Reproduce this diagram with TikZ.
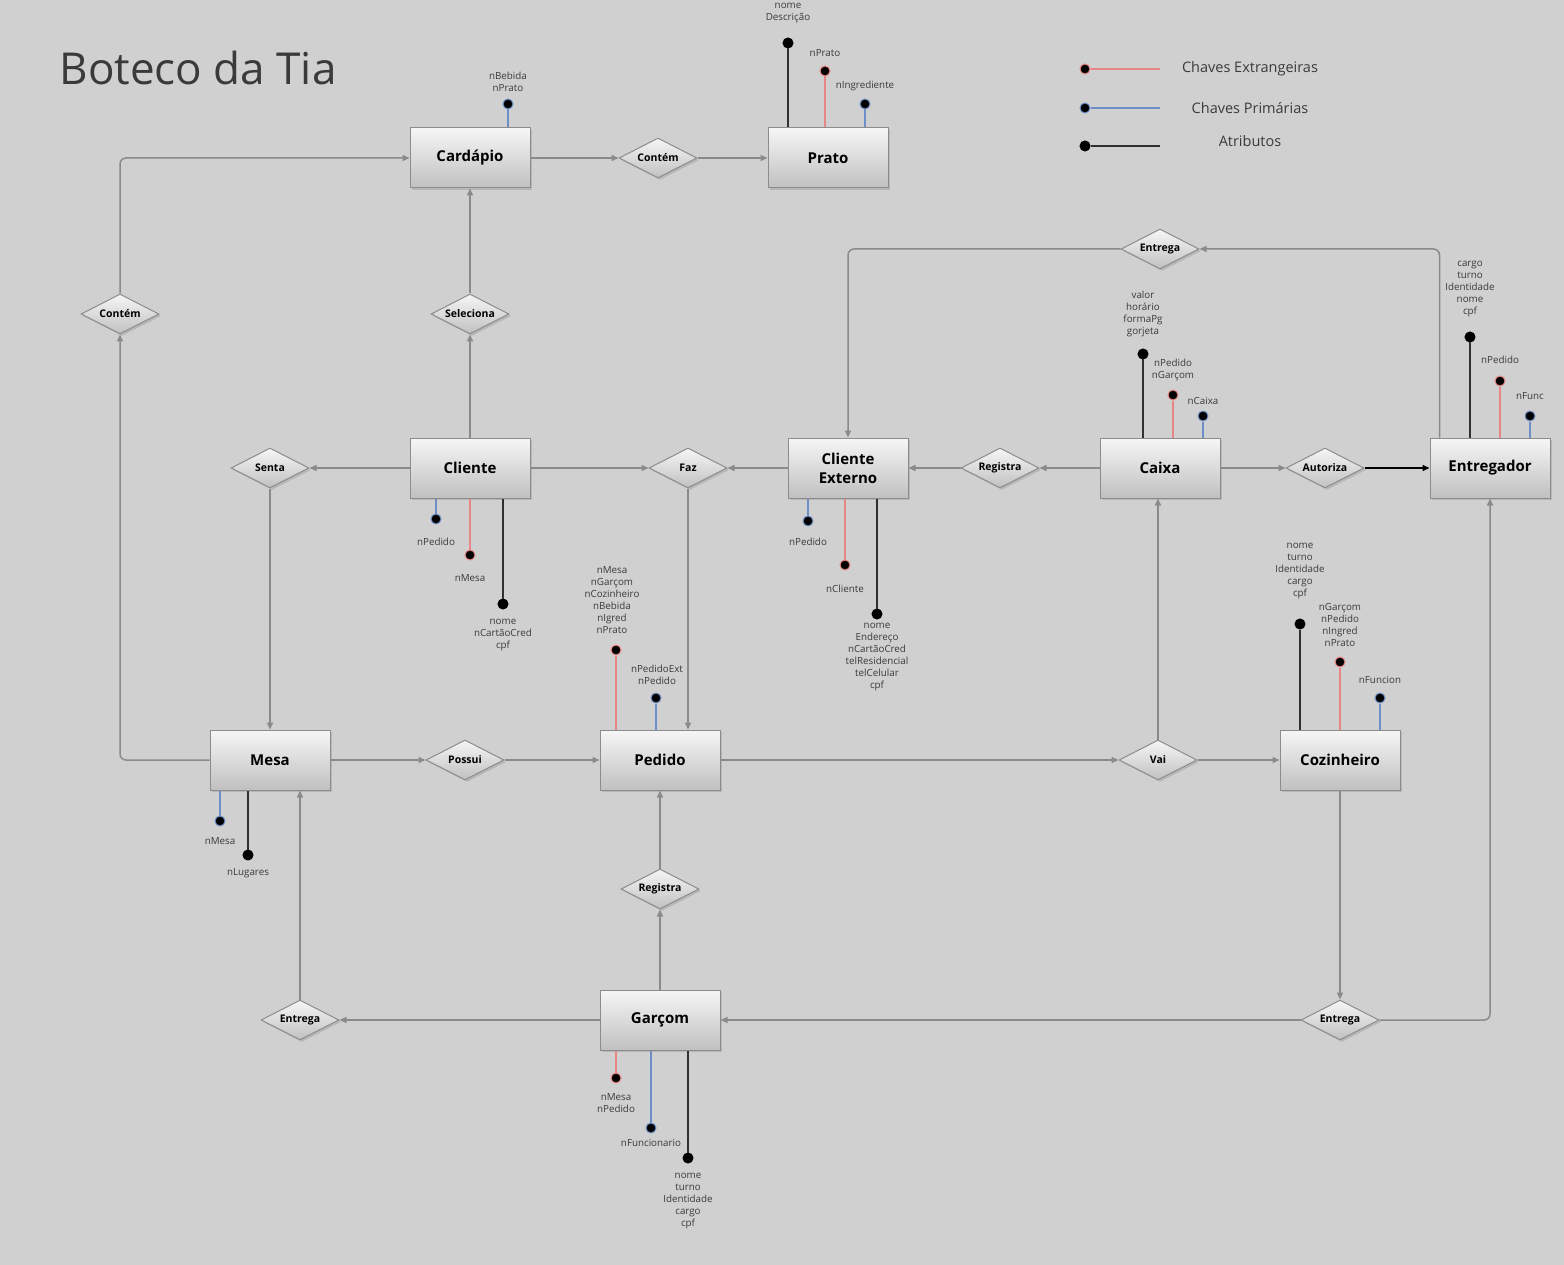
\documentclass[tikz,border=0pt]{standalone}
\usepackage{fontspec}
\setmainfont{Open Sans}
\usetikzlibrary{shapes.geometric,arrows.meta,shadows}

\definecolor{fundo}{HTML}{D0D0D0}
\definecolor{linha}{HTML}{8A8A8A}
\definecolor{borda}{HTML}{8C8C8C}
\definecolor{topo}{HTML}{F6F6F6}
\definecolor{base}{HTML}{C0C0C0}
\definecolor{fkcor}{HTML}{E88585}
\definecolor{pkcor}{HTML}{6E8EC6}
\definecolor{atcor}{HTML}{303030}
\definecolor{texto}{HTML}{3A3A3A}

\begin{document}
\begin{tikzpicture}[x=1pt, y=-1pt,
    entidade/.style={rectangle, draw=borda, line width=1pt, top color=topo, bottom color=base,
      minimum width=120pt, minimum height=60pt, align=center,
      font=\fontsize{15}{19}\selectfont\bfseries,
      drop shadow={opacity=0.3, shadow xshift=2pt, shadow yshift=-2pt}},
    relacao/.style={diamond, aspect=2, draw=borda, line width=1pt, top color=topo, bottom color=base,
      minimum width=78pt, minimum height=40pt, inner sep=1pt,
      font=\fontsize{10.5}{12}\selectfont\bfseries,
      drop shadow={opacity=0.3, shadow xshift=2pt, shadow yshift=-2pt}},
    liga/.style={draw=linha, line width=1.5pt, -{Triangle[length=7pt,width=6pt]}},
    chavep/.style={circle, fill=black, draw=pkcor, line width=1pt, inner sep=0pt, minimum size=10pt},
    chavee/.style={circle, fill=black, draw=fkcor, line width=1pt, inner sep=0pt, minimum size=10pt},
    atrib/.style={circle, fill=black, draw=black, line width=1pt, inner sep=0pt, minimum size=10pt},
    linhap/.style={draw=pkcor, line width=1.3pt},
    linhae/.style={draw=fkcor, line width=1.3pt},
    linhaa/.style={draw=atcor, line width=1.3pt},
    rotulo/.style={font=\fontsize{9.8}{12}\selectfont, align=center, text=texto, inner sep=0pt},
    legenda/.style={font=\fontsize{14.5}{16}\selectfont, text=texto}]

  \useasboundingbox (0,0) rectangle (1564,1265);
  \fill[fundo] (0,0) rectangle (1564,1265);

  \node[anchor=base west, font=\fontsize{44}{50}\selectfont, text=texto] (titulo) at (56,85) {Boteco da Tia};

  % legenda
  \node[chavee] (legfk) at (1085,69) {};
  \node[chavep] (legpk) at (1085,108) {};
  \node[atrib] (legat) at (1085,146) {};
  \coordinate (legfkfim) at (1160,69);
  \coordinate (legpkfim) at (1160,108);
  \coordinate (legatfim) at (1160,146);
  \draw[linhae] (legfk) -- (legfkfim);
  \draw[linhap] (legpk) -- (legpkfim);
  \draw[linhaa] (legat) -- (legatfim);
  \node[legenda] (legfkt) at (1250,69) {Chaves Extrangeiras};
  \node[legenda] (legpkt) at (1250,108) {Chaves Primárias};
  \node[legenda] (legatt) at (1250,141) {Atributos};

  % entidades
  \node[entidade] (cardapio) at (470,158) {Cardápio};
  \node[entidade] (prato) at (828,158) {Prato};
  \node[entidade] (cliente) at (470,468) {Cliente};
  \node[entidade] (clienteext) at (848,468) {Cliente\\Externo};
  \node[entidade] (caixa) at (1160,468) {Caixa};
  \node[entidade] (entregador) at (1490,468) {Entregador};
  \node[entidade] (mesa) at (270,760) {Mesa};
  \node[entidade] (pedido) at (660,760) {Pedido};
  \node[entidade] (cozinheiro) at (1340,760) {Cozinheiro};
  \node[entidade] (garcom) at (660,1020) {Garçom};

  % relacionamentos
  \node[relacao] (contem) at (658,158) {Contém};
  \node[relacao] (contemmesa) at (120,314) {Contém};
  \node[relacao] (seleciona) at (470,314) {Seleciona};
  \node[relacao] (entregaext) at (1160,249) {Entrega};
  \node[relacao] (senta) at (270,468) {Senta};
  \node[relacao] (faz) at (688,468) {Faz};
  \node[relacao] (registracx) at (1000,468) {Registra};
  \node[relacao] (autoriza) at (1325,468) {Autoriza};
  \node[relacao] (possui) at (465,760) {Possui};
  \node[relacao] (vai) at (1158,760) {Vai};
  \node[relacao] (registrapd) at (660,889) {Registra};
  \node[relacao] (entregamesa) at (300,1020) {Entrega};
  \node[relacao] (entregacoz) at (1340,1020) {Entrega};

  \draw[liga] (cardapio) -- (contem);
  \draw[liga] (contem) -- (prato);
  \draw[liga] (cliente) -- (seleciona);
  \draw[liga] (seleciona) -- (cardapio);
  \draw[liga, rounded corners=6pt] (mesa.west) -| (contemmesa.south);
  \draw[liga, rounded corners=6pt] (contemmesa.north) |- (cardapio.west);
  \draw[liga] (cliente) -- (senta);
  \draw[liga] (senta) -- (mesa);
  \draw[liga] (cliente) -- (faz);
  \draw[liga] (clienteext) -- (faz);
  \draw[liga] (faz.south) -- (faz.south |- pedido.north);
  \draw[liga] (caixa) -- (registracx);
  \draw[liga] (registracx) -- (clienteext);
  \draw[liga] (caixa) -- (autoriza);
  \draw[liga, draw=black] (autoriza) -- (entregador);
  \draw[liga, rounded corners=6pt] ([xshift=10pt]entregador.north west) |- (entregaext.east);
  \draw[liga, rounded corners=6pt] (entregaext.west) -| (clienteext.north);
  \draw[liga] (mesa) -- (possui);
  \draw[liga] (possui) -- (pedido);
  \draw[liga] (pedido) -- (vai);
  \draw[liga] (vai) -- (cozinheiro);
  \draw[liga] (vai.north) -- (vai.north |- caixa.south);
  \draw[liga] (garcom) -- (registrapd);
  \draw[liga] (registrapd) -- (pedido);
  \draw[liga] (garcom) -- (entregamesa);
  \draw[liga] (entregamesa.north) -- (entregamesa.north |- mesa.south);
  \draw[liga] (cozinheiro) -- (entregacoz);
  \draw[liga] (entregacoz) -- (garcom);
  \draw[liga, rounded corners=6pt] (entregacoz.east) -| (entregador.south);

  % atributos
  \node[chavep] (cardpk) at (508,104) {};
  \draw[linhap] (cardpk) -- (cardpk |- cardapio.north);
  \node[rotulo] (cardpkt) at (508,82) {nBebida\\nPrato};

  \node[atrib] (pratoat) at (788,43) {};
  \draw[linhaa] (pratoat) -- (pratoat |- prato.north);
  \node[rotulo] (pratoatt) at (788,13) {nome\\Descrição};
  \node[chavee] (pratofk) at (825,71) {};
  \draw[linhae] (pratofk) -- (pratofk |- prato.north);
  \node[rotulo] (pratofkt) at (825,53) {nPrato};
  \node[chavep] (pratopk) at (865,104) {};
  \draw[linhap] (pratopk) -- (pratopk |- prato.north);
  \node[rotulo] (pratopkt) at (865,86) {nIngrediente};

  \node[chavep] (clipk) at (436,519) {};
  \draw[linhap] (clipk) -- (clipk |- cliente.south);
  \node[rotulo] (clipkt) at (436,542) {nPedido};
  \node[chavee] (clifk) at (470,555) {};
  \draw[linhae] (clifk) -- (clifk |- cliente.south);
  \node[rotulo] (clifkt) at (470,578) {nMesa};
  \node[atrib] (cliat) at (503,604) {};
  \draw[linhaa] (cliat) -- (cliat |- cliente.south);
  \node[rotulo] (cliatt) at (503,635) {nome\\nCartãoCred\\cpf};

  \node[chavep] (extpk) at (808,521) {};
  \draw[linhap] (extpk) -- (extpk |- clienteext.south);
  \node[rotulo] (extpkt) at (808,542) {nPedido};
  \node[chavee] (extfk) at (845,565) {};
  \draw[linhae] (extfk) -- (extfk |- clienteext.south);
  \node[rotulo] (extfkt) at (845,589) {nCliente};
  \node[atrib] (extat) at (877,614) {};
  \draw[linhaa] (extat) -- (extat |- clienteext.south);
  \node[rotulo] (extatt) at (877,657) {nome\\Endereço\\nCartãoCred\\telResidencial\\telCelular\\cpf};

  \node[atrib] (cxat) at (1143,354) {};
  \draw[linhaa] (cxat) -- (cxat |- caixa.north);
  \node[rotulo] (cxatt) at (1143,314) {valor\\horário\\formaPg\\gorjeta};
  \node[chavee] (cxfk) at (1173,395) {};
  \draw[linhae] (cxfk) -- (cxfk |- caixa.north);
  \node[rotulo] (cxfkt) at (1173,370) {nPedido\\nGarçom};
  \node[chavep] (cxpk) at (1203,416) {};
  \draw[linhap] (cxpk) -- (cxpk |- caixa.north);
  \node[rotulo] (cxpkt) at (1203,401) {nCaixa};

  \node[atrib] (entat) at (1470,337) {};
  \draw[linhaa] (entat) -- (entat |- entregador.north);
  \node[rotulo] (entatt) at (1470,289) {cargo\\turno\\Identidade\\nome\\cpf};
  \node[chavee] (entfk) at (1500,381) {};
  \draw[linhae] (entfk) -- (entfk |- entregador.north);
  \node[rotulo] (entfkt) at (1500,360) {nPedido};
  \node[chavep] (entpk) at (1530,416) {};
  \draw[linhap] (entpk) -- (entpk |- entregador.north);
  \node[rotulo] (entpkt) at (1530,396) {nFunc};

  \node[chavee] (pedfk) at (616,650) {};
  \draw[linhae] (pedfk) -- (pedfk |- pedido.north);
  \node[rotulo] (pedfkt) at (612,600) {nMesa\\nGarçom\\nCozinheiro\\nBebida\\nIgred\\nPrato};
  \node[chavep] (pedpk) at (656,698) {};
  \draw[linhap] (pedpk) -- (pedpk |- pedido.north);
  \node[rotulo] (pedpkt) at (657,675) {nPedidoExt\\nPedido};

  \node[atrib] (cozat) at (1300,624) {};
  \draw[linhaa] (cozat) -- (cozat |- cozinheiro.north);
  \node[rotulo] (cozatt) at (1300,571) {nome\\turno\\Identidade\\cargo\\cpf};
  \node[chavee] (cozfk) at (1340,662) {};
  \draw[linhae] (cozfk) -- (cozfk |- cozinheiro.north);
  \node[rotulo] (cozfkt) at (1340,625) {nGarçom\\nPedido\\nIngred\\nPrato};
  \node[chavep] (cozpk) at (1380,698) {};
  \draw[linhap] (cozpk) -- (cozpk |- cozinheiro.north);
  \node[rotulo] (cozpkt) at (1380,680) {nFuncion};

  \node[chavep] (mesapk) at (220,821) {};
  \draw[linhap] (mesapk) -- (mesapk |- mesa.south);
  \node[rotulo] (mesapkt) at (220,841) {nMesa};
  \node[atrib] (mesaat) at (248,855) {};
  \draw[linhaa] (mesaat) -- (mesaat |- mesa.south);
  \node[rotulo] (mesaatt) at (248,873) {nLugares};

  \node[chavee] (garfk) at (616,1078) {};
  \draw[linhae] (garfk) -- (garfk |- garcom.south);
  \node[rotulo] (garfkt) at (616,1103) {nMesa\\nPedido};
  \node[chavep] (garpk) at (651,1128) {};
  \draw[linhap] (garpk) -- (garpk |- garcom.south);
  \node[rotulo] (garpkt) at (651,1143) {nFuncionario};
  \node[atrib] (garat) at (688,1158) {};
  \draw[linhaa] (garat) -- (garat |- garcom.south);
  \node[rotulo] (garatt) at (688,1201) {nome\\turno\\Identidade\\cargo\\cpf};
\end{tikzpicture}
\end{document}
